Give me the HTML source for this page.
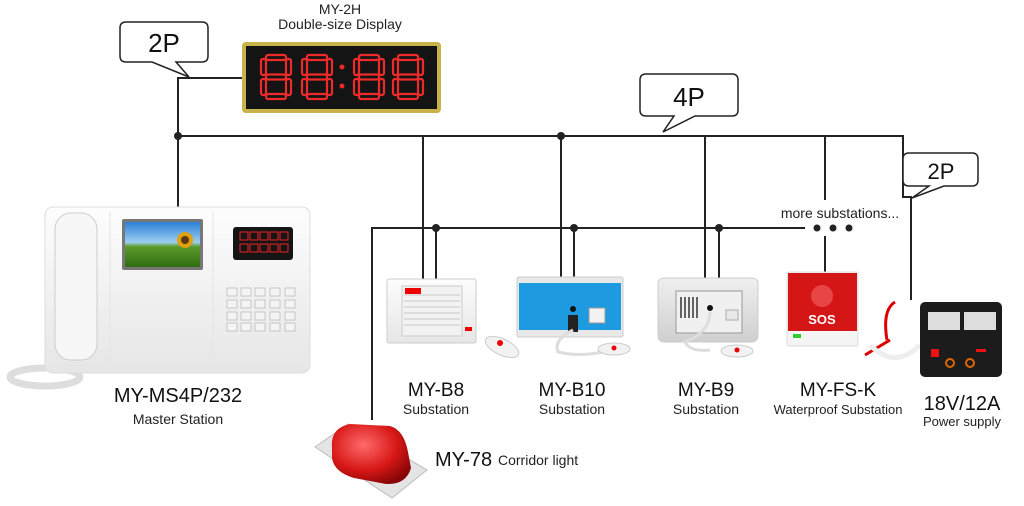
<!DOCTYPE html>
<html><head><meta charset="utf-8"><style>
html,body{margin:0;padding:0;background:#fff;}
svg{display:block;font-family:"Liberation Sans",sans-serif;}
</style></head><body>
<svg width="1024" height="506" viewBox="0 0 1024 506" xmlns="http://www.w3.org/2000/svg">
<defs>
<linearGradient id="wg" x1="0" y1="0" x2="0" y2="1"><stop offset="0" stop-color="#fdfdfd"/><stop offset="1" stop-color="#e6e6e6"/></linearGradient>
<linearGradient id="gg" x1="0" y1="0" x2="0" y2="1"><stop offset="0" stop-color="#f0f0f0"/><stop offset="1" stop-color="#cfcfcf"/></linearGradient>
<linearGradient id="sky" x1="0" y1="0" x2="0" y2="1"><stop offset="0" stop-color="#2b7fd6"/><stop offset="0.45" stop-color="#9ccff0"/><stop offset="0.55" stop-color="#5c9a2a"/><stop offset="1" stop-color="#2f6d14"/></linearGradient>
<radialGradient id="red" cx="0.4" cy="0.35" r="0.7"><stop offset="0" stop-color="#ff6a6a"/><stop offset="0.6" stop-color="#d81818"/><stop offset="1" stop-color="#8a0606"/></radialGradient>
<g id="d8" fill="none" stroke="#ee2a2a" stroke-width="2.2" stroke-linejoin="round">
<rect x="5" y="0" width="20" height="5" rx="2"/>
<rect x="5" y="19.5" width="20" height="5" rx="2"/>
<rect x="5" y="39" width="20" height="5" rx="2"/>
<rect x="0" y="4" width="5" height="16" rx="2"/>
<rect x="25" y="4" width="5" height="16" rx="2"/>
<rect x="0" y="24" width="5" height="16" rx="2"/>
<rect x="25" y="24" width="5" height="16" rx="2"/>
</g>
</defs>
<g stroke="#222" stroke-width="2" fill="none">
<polyline points="178,207 178,78 242,78"/>
<polyline points="178,136 903,136 903,197 911,197 911,300"/>
<polyline points="372,420 372,228 805,228"/>
<line x1="423" y1="136" x2="423" y2="279"/>
<line x1="436" y1="228" x2="436" y2="279"/>
<line x1="561" y1="136" x2="561" y2="277"/>
<line x1="574" y1="228" x2="574" y2="277"/>
<line x1="705" y1="136" x2="705" y2="278"/>
<line x1="719" y1="228" x2="719" y2="278"/>
<line x1="825" y1="136" x2="825" y2="200"/>
<line x1="825" y1="236" x2="825" y2="273"/>
</g>
<g fill="#222">
<circle cx="178" cy="136" r="4"/><circle cx="436" cy="228" r="4"/><circle cx="561" cy="136" r="4"/>
<circle cx="574" cy="228" r="4"/><circle cx="719" cy="228" r="4"/>
<circle cx="817" cy="228" r="3.5"/><circle cx="833" cy="228" r="3.5"/><circle cx="849" cy="228" r="3.5"/>
</g>
<g fill="#fff" stroke="#222" stroke-width="1.5">
<path d="M126,22 H202 Q208,22 208,28 V56 Q208,62 202,62 H176 L189,77 L152,62 H126 Q120,62 120,56 V28 Q120,22 126,22 Z"/>
<path d="M646,74 H732 Q738,74 738,80 V110 Q738,116 732,116 H695 L663,132 L674,116 H646 Q640,116 640,110 V80 Q640,74 646,74 Z"/>
<path d="M909,153 H972 Q978,153 978,159 V180 Q978,186 972,186 H944 L912,198 L929,186 H909 Q903,186 903,180 V159 Q903,153 909,153 Z"/>
</g>
<g font-size="26" text-anchor="middle" fill="#111">
<text x="164" y="52">2P</text><text x="689" y="106">4P</text>
<text x="941" y="179" font-size="22">2P</text>
</g>
<text x="340" y="14" font-size="14" text-anchor="middle" fill="#222">MY-2H</text>
<text x="340" y="29" font-size="14" text-anchor="middle" fill="#222">Double-size Display</text>
<rect x="242" y="42" width="199" height="71" rx="4" fill="#c8b24a"/>
<rect x="246" y="46" width="191" height="63" fill="#141414"/>
<use href="#d8" x="261" y="55"/>
<use href="#d8" x="302" y="55"/>
<use href="#d8" x="354" y="55"/>
<use href="#d8" x="393" y="55"/>
<circle cx="342" cy="67" r="2.5" fill="#ee2a2a"/><circle cx="342" cy="86" r="2.5" fill="#ee2a2a"/>
<!-- master station -->
<ellipse cx="45" cy="377" rx="35" ry="9" fill="none" stroke="#ddd" stroke-width="7"/>
<rect x="45" y="207" width="265" height="166" rx="8" fill="url(#wg)" stroke="#ddd"/>
<line x1="110" y1="212" x2="110" y2="368" stroke="#e4e4e4"/>
<line x1="213" y1="212" x2="213" y2="368" stroke="#e4e4e4"/>
<rect x="55" y="213" width="42" height="147" rx="16" fill="#f7f7f7" stroke="#ccc"/>
<rect x="122" y="219" width="81" height="51" rx="2" fill="#777"/>
<rect x="125" y="222" width="75" height="45" fill="url(#sky)"/>
<circle cx="185" cy="240" r="8" fill="#e0a010"/><circle cx="185" cy="240" r="4" fill="#5a3a10"/>
<rect x="233" y="227" width="60" height="33" rx="3" fill="#151515"/>
<g fill="none" stroke="#e22" stroke-width="1">
<rect x="240" y="232" width="8" height="8"/><rect x="250" y="232" width="8" height="8"/><rect x="260" y="232" width="8" height="8"/><rect x="270" y="232" width="8" height="8"/><rect x="280" y="232" width="8" height="8"/>
<rect x="240" y="244" width="8" height="8"/><rect x="250" y="244" width="8" height="8"/><rect x="260" y="244" width="8" height="8"/><rect x="270" y="244" width="8" height="8"/><rect x="280" y="244" width="8" height="8"/>
</g>
<g fill="#f4f4f4" stroke="#bbb" stroke-width="0.8">
<rect x="227" y="288" width="10" height="8"/><rect x="241" y="288" width="10" height="8"/><rect x="255" y="288" width="10" height="8"/><rect x="270" y="288" width="10" height="8"/><rect x="285" y="288" width="10" height="8"/>
<rect x="227" y="300" width="10" height="8"/><rect x="241" y="300" width="10" height="8"/><rect x="255" y="300" width="10" height="8"/><rect x="270" y="300" width="10" height="8"/><rect x="285" y="300" width="10" height="8"/>
<rect x="227" y="312" width="10" height="8"/><rect x="241" y="312" width="10" height="8"/><rect x="255" y="312" width="10" height="8"/><rect x="270" y="312" width="10" height="8"/><rect x="285" y="312" width="10" height="8"/>
<rect x="227" y="323" width="10" height="8"/><rect x="241" y="323" width="10" height="8"/><rect x="255" y="323" width="10" height="8"/><rect x="270" y="323" width="10" height="8"/><rect x="285" y="323" width="10" height="8"/>
</g>
<text x="178" y="402" font-size="20" text-anchor="middle" fill="#111">MY-MS4P/232</text>
<text x="178" y="424" font-size="14" text-anchor="middle" fill="#222">Master Station</text>
<!-- B8 -->
<rect x="387" y="279" width="89" height="64" rx="2" fill="url(#wg)" stroke="#ccc"/>
<rect x="402" y="286" width="60" height="50" fill="#f2f2f2" stroke="#ccc"/>
<g stroke="#c8c8c8"><line x1="404" y1="295" x2="460" y2="295"/><line x1="404" y1="301" x2="460" y2="301"/><line x1="404" y1="307" x2="460" y2="307"/><line x1="404" y1="313" x2="460" y2="313"/><line x1="404" y1="319" x2="460" y2="319"/><line x1="404" y1="325" x2="460" y2="325"/></g>
<rect x="405" y="288" width="16" height="6" fill="#e00"/><rect x="465" y="327" width="7" height="4" fill="#e00"/>
<ellipse cx="502" cy="347" rx="18" ry="8" fill="#f2f2f2" stroke="#ccc" transform="rotate(25 502 347)"/><circle cx="500" cy="343" r="3" fill="#e00"/>
<text x="436" y="396" font-size="19" text-anchor="middle" fill="#111">MY-B8</text>
<text x="436" y="414" font-size="14" text-anchor="middle" fill="#222">Substation</text>
<!-- B10 -->
<rect x="517" y="277" width="106" height="60" rx="2" fill="#e8e8e8" stroke="#ccc"/>
<rect x="519" y="283" width="102" height="47" fill="#1e9ae0"/>
<circle cx="573" cy="309" r="3" fill="#111"/><rect x="568" y="315" width="10" height="17" fill="#222"/>
<rect x="589" y="308" width="16" height="15" fill="#f2f2f2" stroke="#999"/>
<path d="M573,330 q-20,10 -15,22 q20,5 45,0" fill="none" stroke="#ddd" stroke-width="3"/>
<ellipse cx="614" cy="349" rx="16" ry="6" fill="#f2f2f2" stroke="#ccc"/><circle cx="614" cy="348" r="2.5" fill="#e00"/>
<text x="572" y="396" font-size="19" text-anchor="middle" fill="#111">MY-B10</text>
<text x="572" y="414" font-size="14" text-anchor="middle" fill="#222">Substation</text>
<!-- B9 -->
<rect x="658" y="278" width="100" height="64" rx="6" fill="url(#gg)" stroke="#ccc"/>
<rect x="676" y="291" width="66" height="42" fill="#f0f0f0" stroke="#999"/>
<g stroke="#333" stroke-width="1.5"><line x1="681" y1="297" x2="681" y2="318"/><line x1="685" y1="297" x2="685" y2="318"/><line x1="689" y1="297" x2="689" y2="318"/><line x1="693" y1="297" x2="693" y2="318"/><line x1="697" y1="297" x2="697" y2="318"/></g>
<circle cx="710" cy="308" r="3" fill="#111"/><rect x="726" y="310" width="12" height="10" fill="#e8e8e8" stroke="#aaa"/>
<path d="M710,312 q0,20 -25,30 q5,10 25,8" fill="none" stroke="#ddd" stroke-width="3"/>
<ellipse cx="737" cy="351" rx="16" ry="6" fill="#f2f2f2" stroke="#ccc"/><circle cx="737" cy="350" r="2.5" fill="#e00"/>
<text x="706" y="396" font-size="19" text-anchor="middle" fill="#111">MY-B9</text>
<text x="706" y="414" font-size="14" text-anchor="middle" fill="#222">Substation</text>
<!-- FS-K -->
<rect x="787" y="272" width="71" height="74" rx="2" fill="#f4f4f4" stroke="#ddd"/>
<rect x="788" y="273" width="69" height="58" fill="#d41616"/>
<circle cx="822" cy="296" r="11" fill="#e84545"/>
<text x="822" y="324" font-size="13" font-weight="bold" text-anchor="middle" fill="#fff">SOS</text>
<rect x="793" y="334" width="8" height="4" fill="#3c3"/>
<path d="M887,340 q-5,-30 8,-38 M865,355 l25,-15" fill="none" stroke="#d00" stroke-width="3"/>
<path d="M870,345 q25,25 50,0" fill="none" stroke="#eee" stroke-width="5"/>
<text x="838" y="396" font-size="19" text-anchor="middle" fill="#111">MY-FS-K</text>
<text x="838" y="414" font-size="13" text-anchor="middle" fill="#222">Waterproof Substation</text>
<text x="840" y="218" font-size="14" text-anchor="middle" fill="#222">more substations...</text>
<!-- power -->
<rect x="920" y="302" width="82" height="75" rx="5" fill="#1c1c1c"/>
<rect x="928" y="312" width="32" height="18" fill="#ddd"/><rect x="964" y="312" width="32" height="18" fill="#ddd"/>
<rect x="931" y="349" width="8" height="8" fill="#e11"/>
<circle cx="950" cy="363" r="4" fill="none" stroke="#d60" stroke-width="2"/><circle cx="970" cy="363" r="4" fill="none" stroke="#d60" stroke-width="2"/>
<rect x="976" y="349" width="10" height="3" fill="#e11"/>
<text x="962" y="410" font-size="20" text-anchor="middle" fill="#111">18V/12A</text>
<text x="962" y="426" font-size="13" text-anchor="middle" fill="#222">Power supply</text>
<!-- corridor light -->
<polygon points="315,447 348,424 427,470 392,498" fill="#e4e4e4" stroke="#bbb"/>
<path d="M332,448 Q330,428 350,424 L390,426 Q404,430 408,452 L411,468 Q406,485 386,484 L354,478 Q334,472 332,458 Z" fill="url(#red)"/>
<text x="435" y="466" font-size="20" fill="#111">MY-78</text>
<text x="498" y="465" font-size="14" fill="#222">Corridor light</text>
</svg>
</body></html>
